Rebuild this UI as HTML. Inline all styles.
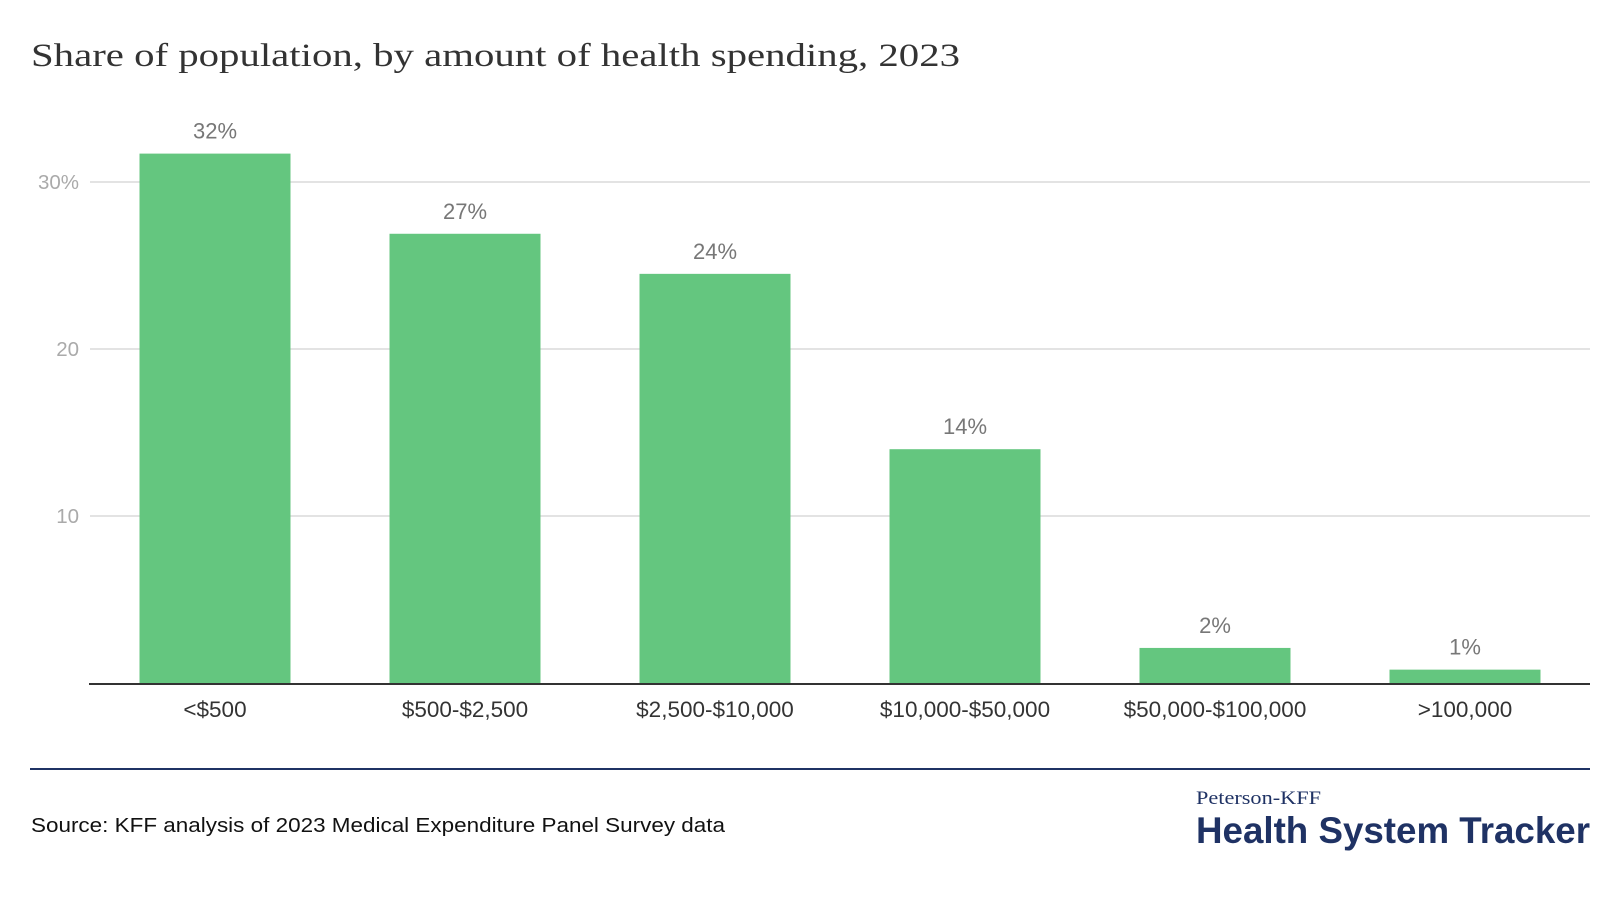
<!DOCTYPE html>
<html><head><meta charset="utf-8"><style>
html,body{margin:0;padding:0;background:#fff;}
svg{display:block;}
</style></head><body>
<svg id="chart" width="1620" height="906" viewBox="0 0 1620 906" xmlns="http://www.w3.org/2000/svg">
<text x="31" y="66" font-family="'Liberation Serif',serif" font-size="33" fill="#333" textLength="929" lengthAdjust="spacingAndGlyphs">Share of population, by amount of health spending, 2023</text>
<g id="grid"></g>
<g id="bars"></g>
<line x1="89" y1="684" x2="1590" y2="684" stroke="#333" stroke-width="2"/>
<line x1="30" y1="769" x2="1590" y2="769" stroke="#1f3264" stroke-width="2"/>
<text x="31" y="832" font-family="'Liberation Sans',sans-serif" font-size="20" fill="#111" textLength="694" lengthAdjust="spacingAndGlyphs">Source: KFF analysis of 2023 Medical Expenditure Panel Survey data</text>
<text x="1196" y="804" font-family="'Liberation Serif',serif" font-size="19" fill="#1f3264" textLength="125" lengthAdjust="spacingAndGlyphs">Peterson-KFF</text>
<text x="1196" y="843" font-family="'Liberation Sans',sans-serif" font-weight="bold" font-size="37" fill="#1f3264" textLength="394" lengthAdjust="spacingAndGlyphs">Health System Tracker</text>
</svg>
<script>
const categories = ["<$500","$500-$2,500","$2,500-$10,000","$10,000-$50,000","$50,000-$100,000",">100,000"];
const values = [31.7, 26.9, 24.5, 14.0, 2.1, 0.8];
const valueLabels = ["32%","27%","24%","14%","2%","1%"];
const tickValues = [10, 20, 30];
const tickLabels = ["10","20","30%"];

const NS = "http://www.w3.org/2000/svg";
const x0 = 90, x1 = 1590, y0 = 683, pxPerUnit = 16.7;
const band = (x1 - x0) / categories.length;
const bw = band * 0.604;
function yScale(v){ return y0 - v * pxPerUnit; }
function xCenter(i){ return x0 + band * (i + 0.5); }

const grid = document.getElementById('grid');
tickValues.forEach((t, i) => {
  const y = yScale(t);
  const l = document.createElementNS(NS, 'line');
  l.setAttribute('x1', 90); l.setAttribute('x2', 1590);
  l.setAttribute('y1', y); l.setAttribute('y2', y);
  l.setAttribute('stroke', '#e3e3e3'); l.setAttribute('stroke-width', '2');
  
  
  grid.appendChild(l);
  const tx = document.createElementNS(NS, 'text');
  tx.setAttribute('x', 79); tx.setAttribute('y', y + 7);
  tx.setAttribute('text-anchor', 'end');
  tx.setAttribute('font-family', "'Liberation Sans',sans-serif");
  tx.setAttribute('font-size', '20.5'); tx.setAttribute('fill', '#aaa');
  tx.textContent = tickLabels[i];
  
  
  grid.appendChild(tx);
});

const bars = document.getElementById('bars');
categories.forEach((c, i) => {
  const cx = xCenter(i);
  const top = yScale(values[i]);
  const r = document.createElementNS(NS, 'rect');
  r.setAttribute('x', cx - bw / 2); r.setAttribute('y', top);
  r.setAttribute('width', bw); r.setAttribute('height', y0 - top);
  r.setAttribute('fill', '#64c67f');
  
  
  bars.appendChild(r);
  const vl = document.createElementNS(NS, 'text');
  vl.setAttribute('x', cx); vl.setAttribute('y', top - 15);
  vl.setAttribute('text-anchor', 'middle');
  vl.setAttribute('font-family', "'Liberation Sans',sans-serif");
  vl.setAttribute('font-size', '22'); vl.setAttribute('fill', '#777');
  vl.textContent = valueLabels[i];
  
  
  bars.appendChild(vl);
  const cl = document.createElementNS(NS, 'text');
  cl.setAttribute('x', cx); cl.setAttribute('y', 717);
  cl.setAttribute('text-anchor', 'middle');
  cl.setAttribute('font-family', "'Liberation Sans',sans-serif");
  cl.setAttribute('font-size', '22.5'); cl.setAttribute('fill', '#333');
  cl.textContent = c;
  
  
  bars.appendChild(cl);
});
</script>
</body></html>
